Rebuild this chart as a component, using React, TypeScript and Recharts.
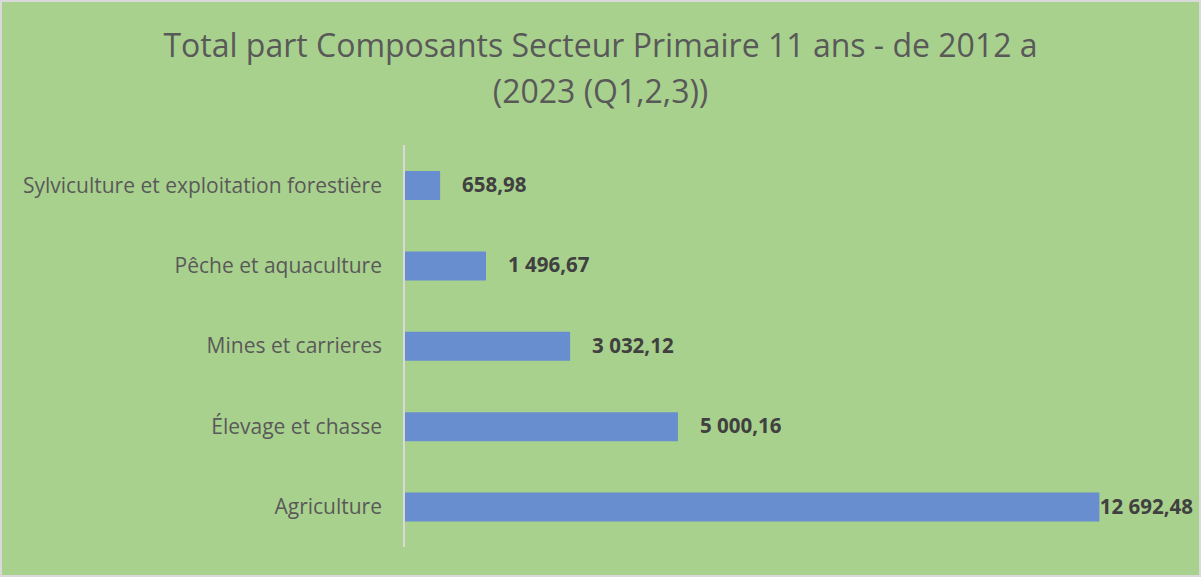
import { BarChart, Bar, XAxis, YAxis, LabelList } from 'recharts'

const categories = [
  'Sylviculture et exploitation forestière',
  'Pêche et aquaculture',
  'Mines et carrieres',
  'Élevage et chasse',
  'Agriculture',
]
const values = [658.98, 1496.67, 3032.12, 5000.16, 12692.48]
const titleLines = ['Total part Composants Secteur Primaire 11 ans - de 2012 a', '(2023 (Q1,2,3))']

const data = categories.map((name, i) => ({ name, value: values[i] }))

const FONT = '"Open Sans", Lato, sans-serif'
const W = 1201
const H = 577

const fmt = (v: number) => {
  const [int, dec] = v.toFixed(2).split('.')
  return int.replace(/\B(?=(\d{3})+(?!\d))/g, ' ') + ',' + dec
}

const ValueLabel = (props: any) => {
  const { x, y, width, height, value } = props
  const text = fmt(value)
  const estW = text.length * 10.6
  const limit = W - 2 - 8
  let lx = x + width + 22
  let anchor: 'start' | 'end' = 'start'
  if (lx + estW > limit) {
    lx = limit
    anchor = 'end'
  }
  return (
    <text x={lx} y={y + height / 2 + 1} textAnchor={anchor} dominantBaseline="middle"
      fill="#404040" fontFamily={FONT} fontWeight={700} fontSize={20.5}>
      {text}
    </text>
  )
}

export default function App() {
  return (
    <div style={{
      position: 'absolute', left: 0, top: 0, width: W, height: H,
      boxSizing: 'border-box', border: '2px solid #d9d9d9', background: '#a9d18e',
    }}>
      <div style={{
        position: 'absolute', left: 0, right: 0, top: 20, textAlign: 'center',
        fontFamily: FONT, fontSize: 32, lineHeight: '46px', color: '#595959',
      }}>
        {titleLines.map(t => <div key={t}>{t}</div>)}
      </div>
      <BarChart width={W - 4} height={H - 4} data={data} layout="vertical"
        margin={{ top: 143, right: 28, bottom: 28, left: 0 }} barCategoryGap={0}>
        <XAxis type="number" domain={[0, 14000]} hide />
        <YAxis type="category" dataKey="name" width={402}
          axisLine={{ stroke: '#d9d9d9', strokeWidth: 2 }} tickLine={false}
          tickSize={0} tickMargin={22}
          tick={{ fill: '#595959', fontSize: 21, fontFamily: FONT }} />
        <Bar dataKey="value" fill="#698ed0" barSize={29} isAnimationActive={false}>
          <LabelList dataKey="value" content={<ValueLabel />} />
        </Bar>
      </BarChart>
    </div>
  )
}
